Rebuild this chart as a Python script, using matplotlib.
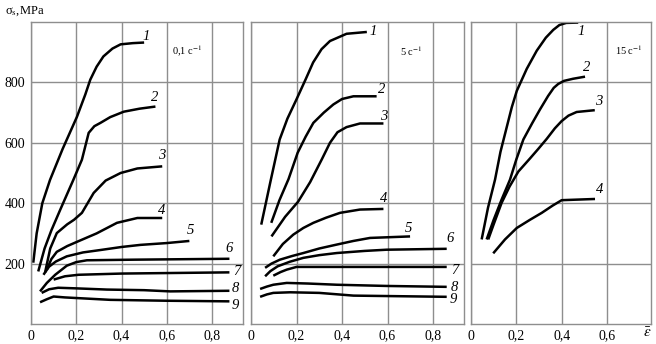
import matplotlib
matplotlib.use("Agg")
import matplotlib.pyplot as plt

plt.rcParams['font.family'] = ['Liberation Serif', 'DejaVu Serif']
plt.rcParams['mathtext.fontset'] = 'stix'

# strain rate labels for the three panels
rates = ["0,1 с$^{-1}$", "5 с$^{-1}$", "15 с$^{-1}$"]

# panel 1, 0.1 1/s
p1_x = [
    [0.01, 0.025, 0.05, 0.084, 0.14, 0.203, 0.24, 0.262, 0.29, 0.32, 0.36, 0.396, 0.45, 0.5],
    [0.032, 0.06, 0.09, 0.129, 0.187, 0.225, 0.255, 0.28, 0.307, 0.35, 0.41, 0.48, 0.55],
    [0.062, 0.085, 0.114, 0.16, 0.19, 0.225, 0.277, 0.33, 0.396, 0.47, 0.58],
    [0.07, 0.09, 0.114, 0.16, 0.203, 0.29, 0.38, 0.47, 0.58],
    [0.055, 0.08, 0.11, 0.158, 0.23, 0.307, 0.4, 0.484, 0.6, 0.70],
    [0.04, 0.07, 0.107, 0.158, 0.2, 0.247, 0.455, 0.877],
    [0.1, 0.15, 0.21, 0.4, 0.877],
    [0.047, 0.08, 0.12, 0.2, 0.336, 0.5, 0.615, 0.877],
    [0.04, 0.07, 0.1, 0.15, 0.35, 0.6, 0.877],
]
p1_y = [
    [203, 300, 400, 477, 580, 686, 760, 809, 852, 886, 912, 926, 930, 932],
    [174, 250, 310, 378, 477, 544, 633, 655, 666, 685, 703, 713, 720],
    [170, 250, 301, 330, 345, 368, 434, 475, 500, 515, 522],
    [180, 215, 239, 258, 272, 300, 335, 351, 351],
    [163, 190, 207, 224, 237, 245, 255, 262, 268, 275],
    [108, 136, 163, 193, 205, 211, 213, 216],
    [147, 158, 163, 167, 171],
    [103, 115, 120, 118, 114, 112, 108, 110],
    [72, 82, 91, 88, 80, 77, 75],
]

# panel 2, 5 1/s
p2_x = [
    [0.045, 0.085, 0.126, 0.16, 0.2, 0.24, 0.273, 0.31, 0.347, 0.42, 0.509],
    [0.089, 0.125, 0.165, 0.205, 0.24, 0.274, 0.32, 0.362, 0.4, 0.45, 0.552],
    [0.09, 0.15, 0.207, 0.26, 0.311, 0.347, 0.38, 0.42, 0.479, 0.582],
    [0.098, 0.14, 0.186, 0.23, 0.274, 0.33, 0.391, 0.479, 0.582],
    [0.062, 0.09, 0.127, 0.18, 0.23, 0.3, 0.377, 0.45, 0.523, 0.699],
    [0.062, 0.085, 0.117, 0.17, 0.23, 0.3, 0.377, 0.5, 0.596, 0.86],
    [0.098, 0.13, 0.157, 0.2, 0.377, 0.86],
    [0.04, 0.07, 0.098, 0.157, 0.25, 0.377, 0.596, 0.86],
    [0.04, 0.07, 0.098, 0.172, 0.3, 0.45, 0.86],
]
p2_y = [
    [329, 470, 611, 680, 744, 810, 866, 910, 937, 961, 967],
    [335, 410, 480, 567, 620, 666, 700, 727, 745, 754, 754],
    [290, 355, 405, 470, 545, 600, 635, 652, 664, 664],
    [224, 265, 296, 318, 335, 352, 368, 379, 381],
    [186, 200, 213, 225, 235, 250, 263, 275, 285, 290],
    [158, 175, 191, 206, 219, 228, 235, 242, 246, 249],
    [160, 172, 180, 189, 189, 189],
    [116, 124, 130, 136, 134, 130, 126, 123],
    [90, 98, 103, 105, 103, 94, 90],
]

# panel 3, 15 1/s
p3_x = [
    [0.047, 0.075, 0.106, 0.13, 0.157, 0.18, 0.202, 0.246, 0.29, 0.33, 0.363, 0.39, 0.42, 0.473],
    [0.069, 0.1, 0.135, 0.172, 0.2, 0.231, 0.27, 0.304, 0.34, 0.365, 0.385, 0.41, 0.45, 0.503],
    [0.076, 0.1, 0.135, 0.17, 0.209, 0.26, 0.297, 0.334, 0.37, 0.4, 0.43, 0.466, 0.546],
    [0.098, 0.15, 0.202, 0.26, 0.312, 0.36, 0.4, 0.547],
]
p3_y = [
    [280, 385, 478, 570, 650, 718, 772, 845, 905, 948, 974, 990, 997, 998],
    [280, 345, 412, 478, 545, 611, 665, 710, 755, 782, 795, 805, 812, 819],
    [280, 330, 401, 455, 505, 548, 580, 613, 648, 672, 690, 702, 708],
    [234, 280, 318, 345, 368, 392, 410, 414],
]

# curve number labels (x, y)
p1_lab = [(0.507, 952), (0.547, 750), (0.578, 559), (0.578, 377), (0.704, 310),
          (0.874, 249), (0.91, 174), (0.904, 116), (0.904, 62)]
p2_lab = [(0.538, 968), (0.574, 777), (0.582, 686), (0.585, 414), (0.69, 315),
          (0.875, 283), (0.897, 177), (0.893, 121), (0.891, 81)]
p3_lab = [(0.488, 970), (0.51, 849), (0.562, 738), (0.566, 445)]

xticks = [[0, 0.2, 0.4, 0.6, 0.8], [0, 0.2, 0.4, 0.6, 0.8], [0, 0.2, 0.4, 0.6]]
xtick_labels = [["0", "0,2", "0,4", "0,6", "0,8"], ["0", "0,2", "0,4", "0,6", "0,8"],
                ["0", "0,2", "0,4", "0,6"]]
yticks = [200, 400, 600, 800]
xmax = [0.937, 0.936, 0.794]
rate_pos = [(0.692, 904), (0.706, 904), (0.694, 907)]

grey = "#8e8e8e"
fig = plt.figure(figsize=(6.56, 3.44), dpi=100)
W, H = 656, 344
boxes = [(31, 243), (251, 464), (471, 651)]
top, bot = 22, 324

data = [(p1_x, p1_y, p1_lab), (p2_x, p2_y, p2_lab), (p3_x, p3_y, p3_lab)]
for i, (l, r) in enumerate(boxes):
    ax = fig.add_axes([l / W, (H - bot) / H, (r - l) / W, (bot - top) / H])
    xs, ys, labs = data[i]
    for cx, cy in zip(xs, ys):
        ax.plot(cx, cy, color="black", lw=1.8, solid_capstyle="butt", solid_joinstyle="round")
    for k, (lx, ly) in enumerate(labs):
        ax.text(lx, ly, str(k + 1), fontsize=10.5, fontstyle="italic", ha="center", va="center")
    ax.text(rate_pos[i][0], rate_pos[i][1], rates[i], fontsize=7.5, ha="center", va="center")
    ax.set_xlim(0, xmax[i])
    ax.set_ylim(0, 1000)
    ax.set_xticks(xticks[i])
    ax.set_xticklabels(xtick_labels[i], fontsize=10)
    ax.set_yticks(yticks)
    if i == 0:
        ax.set_yticklabels([str(v) for v in yticks], fontsize=10)
    else:
        ax.set_yticklabels([])
    ax.tick_params(length=0, pad=4)
    ax.grid(True, color=grey, lw=1.0)
    for s in ax.spines.values():
        s.set_color(grey)
        s.set_linewidth(1.0)
    ax.set_axisbelow(True)

fig.text(5 / W, 1 - 11 / H, "σ$_\\mathrm{s}$,MPa", fontsize=9, va="center", ha="left")
fig.text(647 / W, 1 - 333 / H, r"$\bar{\varepsilon}$", fontsize=11, va="center", ha="center")

fig.savefig("out.png", dpi=100)
